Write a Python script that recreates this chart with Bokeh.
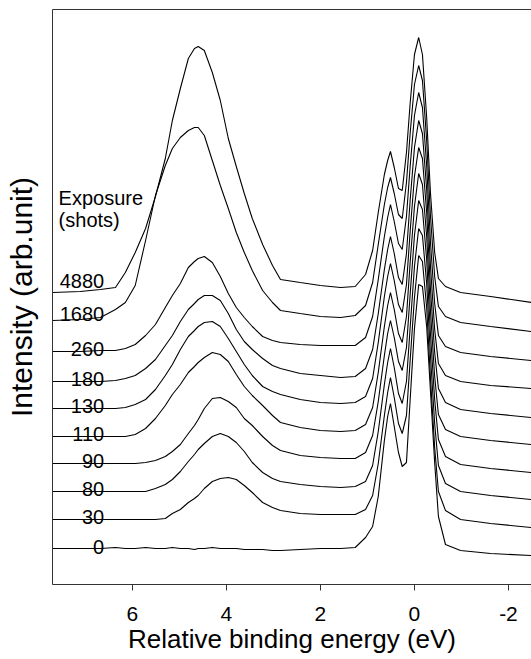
from bokeh.plotting import figure
from bokeh.models import Range1d, LinearAxis, FixedTicker
from bokeh.core.properties import value
from bokeh.embed import file_html
from bokeh.resources import INLINE

# Relative binding energy grid (eV)
energy = [7.70, 7.11, 6.68, 6.36, 6.15, 5.94, 5.72, 5.51, 5.30, 5.15,
          4.98, 4.81, 4.68, 4.60, 4.47, 4.30, 4.13, 3.96, 3.79, 3.62,
          3.45, 3.23, 3.02, 2.85, 2.43, 2.00, 1.57,
          1.26, 1.04, 0.89, 0.77, 0.64, 0.57, 0.51, 0.43, 0.34, 0.26,
          0.17, 0.09, 0.00, -0.09, -0.17, -0.26, -0.34, -0.43, -0.51,
          -0.66, -0.98, -1.62, -2.49]

exposures = ["0", "30", "80", "90", "110", "130", "180", "260", "1680", "4880"]

# vertical stacking offset of each spectrum (arb. units)
offsets = [36, 65, 93, 121, 148, 176, 203, 233, 264, 292]

# spectra (arb. units above each curve's own baseline)
s_0 = [0, 0, 0, 1, 0, 0, 1, 0, 0, 1, 0, 0, -1, 0, 0, 1, 0, 0, 0, -1,
       -1, -1, -2, -2, -1, 0, 0,
       1, 11, 22, 52, 108, 132, 145, 122, 96, 82, 86, 150, 220, 264, 262,
       222, 158, 86, 32, 4, -2, -5, -7]
s_30 = [0, 0, 0, 0, 0, 0, 0, 0, 1, 6, 10, 17, 21, 24, 31, 38, 41, 42, 40, 34,
        27, 17, 12, 9, 6, 5, 5,
        5, 10, 24, 56, 104, 127, 142, 122, 96, 86, 104, 160, 222, 264, 258,
        212, 142, 72, 28, 9, 0, -4, -8]
s_80 = [0, 0, 0, 0, 0, 0, 0, 3, 7, 12, 20, 30, 37, 42, 48, 55, 58, 55, 49, 40,
        29, 19, 13, 10, 7, 5, 4,
        5, 10, 26, 60, 107, 129, 143, 124, 98, 88, 110, 165, 225, 263, 256,
        208, 136, 68, 26, 8, 0, -4, -8]
s_90 = [0, 0, 0, 0, 0, 0, 1, 3, 7, 12, 19, 30, 38, 44, 55, 65, 66, 62, 56, 45,
        38, 27, 18, 13, 8, 6, 5,
        5, 11, 28, 62, 108, 130, 143, 126, 102, 93, 116, 170, 228, 263, 254,
        204, 130, 64, 24, 7, -1, -5, -9]
s_110 = [0, 0, 0, 0, 0, 2, 8, 18, 31, 42, 52, 64, 70, 74, 79, 84, 82, 75, 62, 50,
         41, 31, 21, 14, 9, 6, 5,
         6, 12, 29, 64, 110, 131, 144, 127, 103, 94, 120, 175, 230, 263, 252,
         200, 126, 60, 22, 7, 0, -4, -8]
s_130 = [0, 0, 0, 0, 1, 4, 9, 19, 33, 44, 59, 72, 78, 82, 86, 87, 82, 70, 57, 44,
         33, 22, 17, 14, 9, 6, 5,
         6, 12, 30, 66, 112, 132, 145, 128, 104, 96, 124, 178, 232, 261, 250,
         196, 120, 56, 20, 6, -1, -5, -9]
s_180 = [0, 0, 0, 1, 3, 6, 13, 22, 36, 46, 60, 72, 78, 82, 86, 86, 81, 68, 52, 40,
         32, 23, 16, 13, 8, 6, 4,
         5, 13, 32, 68, 112, 132, 145, 128, 104, 97, 128, 182, 234, 261, 248,
         192, 116, 52, 18, 6, 0, -4, -7]
s_260 = [0, 0, 1, 1, 3, 7, 16, 27, 44, 56, 68, 84, 90, 93, 95, 89, 75, 58, 44, 34,
         25, 15, 11, 9, 7, 6, 6,
         6, 14, 35, 72, 115, 134, 147, 130, 108, 102, 135, 186, 236, 259, 244,
         186, 110, 48, 16, 5, -1, -5, -9]
s_1680 = [0, 1, 3, 11, 18, 35, 80, 125, 155, 172, 183, 190, 193, 193, 185, 160,
          135, 112, 88, 68, 50, 30, 18, 10, 7, 4, 3,
          5, 15, 38, 76, 116, 133, 143, 127, 106, 102, 138, 188, 236, 255, 240,
          180, 105, 44, 14, 4, -2, -6, -11]
s_4880 = [0, 1, 3, 5, 20, 40, 64, 96, 134, 172, 204, 234, 244, 246, 242, 220,
          192, 154, 126, 99, 74, 48, 27, 13, 10, 7, 5,
          6, 18, 42, 80, 118, 132, 141, 125, 104, 102, 140, 190, 238, 255, 238,
          175, 100, 40, 14, 6, 0, -4, -10]

spectra = [s_0, s_30, s_80, s_90, s_110, s_130, s_180, s_260, s_1680, s_4880]

FONT = "Liberation Sans"

p = figure(width=531, height=659, output_backend="svg", toolbar_location=None,
           x_range=Range1d(7.70, -2.49), y_range=Range1d(0, 575),
           min_border_left=52, min_border_right=0, min_border_top=9,
           min_border_bottom=75)
p.outline_line_color = None
p.grid.visible = False
p.background_fill_color = "white"
p.border_fill_color = "white"

for off, s in zip(offsets, spectra):
    p.line(energy, [off + v for v in s], line_color="black", line_width=1.1)

# exposure labels
label_lift = [2, 3, 3, 3, 3, 3, 3, 3, 7, 12]
p.text(x=[6.6] * len(exposures),
       y=[o + g for o, g in zip(offsets, label_lift)],
       text=exposures, text_align="right", text_baseline="alphabetic",
       text_font=value(FONT), text_font_size="20px", text_color="black")
p.text(x=[7.57, 7.57], y=[387, 365], text=["Exposure", "(shots)"],
       text_align="left", text_baseline="alphabetic",
       text_font=value(FONT), text_font_size="20px", text_color="black")

ax = p.xaxis[0]
ax.ticker = FixedTicker(ticks=[6, 4, 2, 0, -2])
ax.major_label_overrides = {6: "6", 4: "4", 2: "2", 0: "0", -2: "-2"}
ax.axis_label = "Relative binding energy (eV)"
ax.axis_label_text_font = FONT
ax.axis_label_text_font_size = "26px"
ax.axis_label_text_font_style = "normal"
ax.axis_label_text_color = "black"
ax.axis_label_standoff = 0
ax.major_label_text_font = FONT
ax.major_label_text_font_size = "21px"
ax.major_label_text_color = "black"
ax.major_label_standoff = 16
ax.major_tick_out = 6
ax.major_tick_in = 0
ax.minor_tick_line_color = None
ax.axis_line_color = "#333333"
ax.major_tick_line_color = "#333333"

ay = p.yaxis[0]
ay.ticker = FixedTicker(ticks=[])
ay.axis_label = "Intensity (arb.unit)"
ay.axis_label_text_font = FONT
ay.axis_label_text_font_size = "30px"
ay.axis_label_text_font_style = "normal"
ay.axis_label_text_color = "black"
ay.axis_label_standoff = 15
ay.minor_tick_line_color = None
ay.major_tick_line_color = None
ay.axis_line_color = "#333333"

top = LinearAxis(ticker=FixedTicker(ticks=[]), axis_line_color="#333333",
                 major_tick_line_color=None, minor_tick_line_color=None)
p.add_layout(top, "above")

open("out.html", "w").write(file_html(p, INLINE))
